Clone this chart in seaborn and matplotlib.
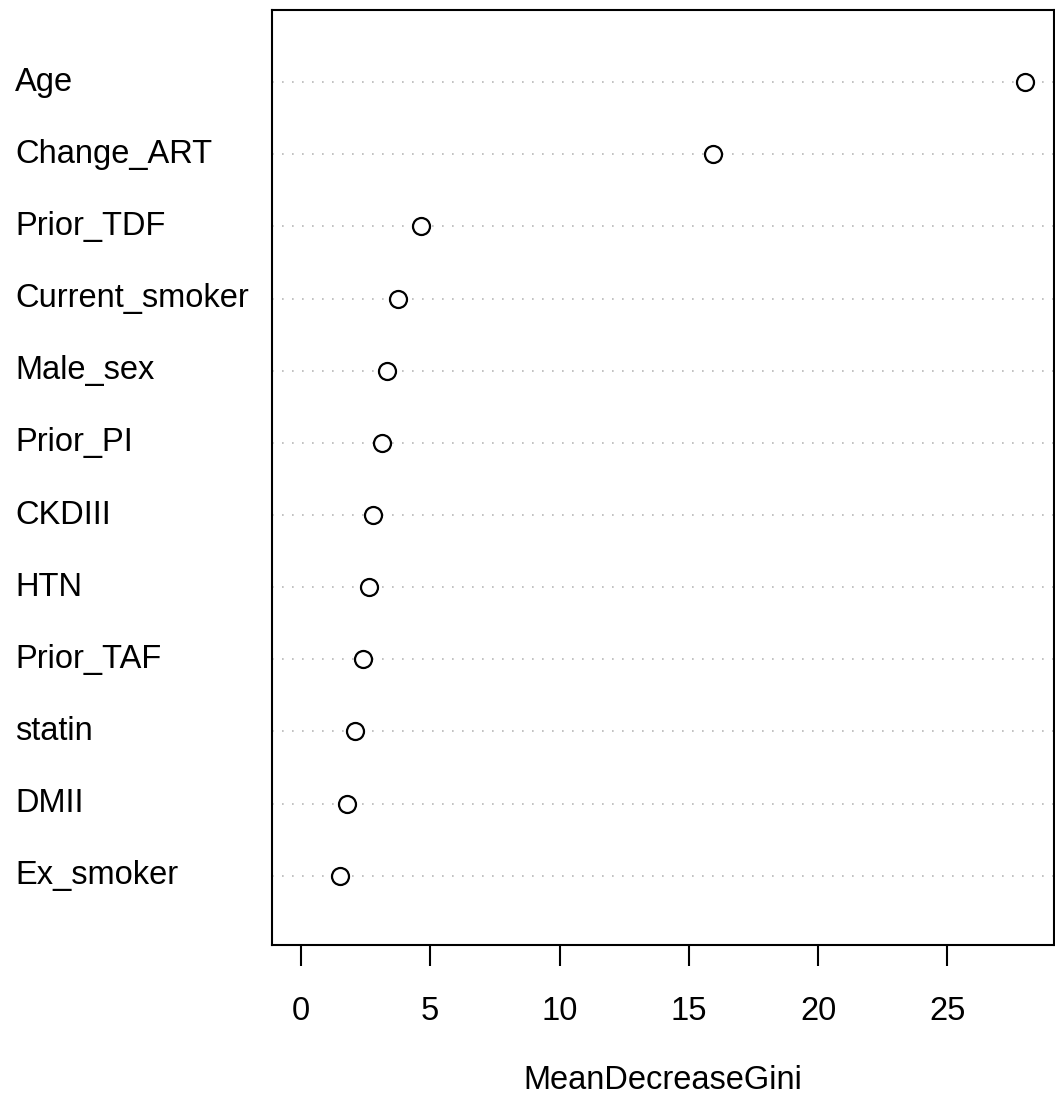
import matplotlib
matplotlib.use("Agg")
import matplotlib.pyplot as plt
import matplotlib.transforms as mtransforms
import seaborn as sns
import pandas as pd

variables = ["Age", "Change_ART", "Prior_TDF", "Current_smoker", "Male_sex", "Prior_PI",
             "CKDIII", "HTN", "Prior_TAF", "statin", "DMII", "Ex_smoker"]
gini = [27.98, 15.93, 4.63, 3.74, 3.32, 3.13, 2.78, 2.62, 2.39, 2.08, 1.77, 1.50]
xticks = [0, 5, 10, 15, 20, 25]

sns.set_theme(style="white")
plt.rcParams['font.family'] = ['Liberation Sans', 'DejaVu Sans']
plt.rcParams['text.color'] = 'black'

FS = 23.5

df = pd.DataFrame({"var": variables, "gini": gini})
n = len(variables)
df["pos"] = [n - i for i in range(n)]

fig = plt.figure(figsize=(10.55, 10.98), dpi=100)
ax = fig.add_axes([272/1055, 1 - 945/1098, (1054-272)/1055, (945-10)/1098])

for p in df["pos"]:
    ax.axhline(p, color="#b8b8b8", linestyle=(0, (1, 5)), linewidth=1.2, zorder=1)

sns.scatterplot(data=df, x="gini", y="pos", ax=ax, s=150, marker="o",
                facecolor="white", edgecolor="black", linewidth=1.6, zorder=3, legend=False)

ax.set_xlim(-1.12, 29.12)
ax.set_ylim(0.04, 13.0)
ax.set_yticks(list(df["pos"]))
ax.set_yticklabels([])
trans = mtransforms.blended_transform_factory(fig.transFigure, ax.transData)
for p, v in zip(df["pos"], df["var"]):
    ax.text(15/1055, p, v, transform=trans, fontsize=FS, ha="left", va="center", color="black")
ax.tick_params(axis="y", length=0)

ax.set_xticks(xticks)
ax.set_xticklabels([str(t) for t in xticks], fontsize=FS, color="black")
ax.tick_params(axis="x", direction="out", length=15, width=1.5, pad=22, colors="black", bottom=True)
ax.set_xlabel("MeanDecreaseGini", fontsize=FS, labelpad=27, color="black")
ax.set_ylabel("")

for s in ax.spines.values():
    s.set_color("black")
    s.set_linewidth(1.5)

fig.savefig("out.png", dpi=100)
